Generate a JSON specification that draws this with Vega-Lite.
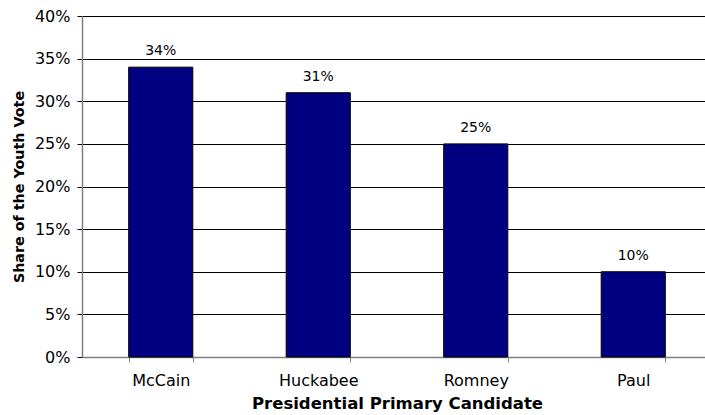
{
  "$schema": "https://vega.github.io/schema/vega-lite/v6.json",
  "autosize": "none",
  "width": 630,
  "height": 341,
  "padding": {"left": 82, "top": 16, "right": 0, "bottom": 58},
  "background": "white",
  "config": {
    "view": {"stroke": null},
    "font": "DejaVu Sans"
  },
  "data": {
    "values": [
      {"candidate": "McCain", "share": 0.34, "label": "34%"},
      {"candidate": "Huckabee", "share": 0.31, "label": "31%"},
      {"candidate": "Romney", "share": 0.25, "label": "25%"},
      {"candidate": "Paul", "share": 0.10, "label": "10%"}
    ]
  },
  "encoding": {
    "x": {
      "field": "candidate",
      "type": "nominal",
      "sort": null,
      "scale": {"paddingInner": 0.593, "paddingOuter": 0.2965},
      "axis": {
        "title": "Presidential Primary Candidate",
        "titleFont": "DejaVu Sans",
        "titleFontSize": 16.5,
        "titleFontWeight": "bold",
        "titleColor": "#000",
        "titlePadding": 7,
        "labelAngle": 0,
        "labelFont": "DejaVu Sans",
        "labelFontSize": 16,
        "labelColor": "#000",
        "labelPadding": 10,
        "tickBand": "extent",
        "tickColor": "#808080",
        "tickSize": 5,
        "domainColor": "#808080",
        "domainWidth": 1.5,
        "grid": false
      }
    },
    "y": {
      "field": "share",
      "type": "quantitative",
      "scale": {"domain": [0, 0.4], "nice": false},
      "axis": {
        "title": "Share of the Youth Vote",
        "titleFont": "DejaVu Sans",
        "titleFontSize": 14.3,
        "titleFontWeight": "bold",
        "titleColor": "#000",
        "titlePadding": 8,
        "format": ".0%",
        "values": [0, 0.05, 0.1, 0.15, 0.2, 0.25, 0.3, 0.35, 0.4],
        "labelFont": "DejaVu Sans",
        "labelFontSize": 16,
        "labelColor": "#000",
        "labelPadding": 7,
        "tickColor": "#000",
        "tickSize": 5,
        "domainColor": "#808080",
        "domainWidth": 1.5,
        "grid": true,
        "gridColor": "#000",
        "gridWidth": 1,
        "gridOpacity": 1
      }
    }
  },
  "layer": [
    {
      "mark": {"type": "bar", "color": "#000080", "stroke": "#000", "strokeWidth": 1}
    },
    {
      "mark": {"type": "text", "dy": -16, "fontSize": 14, "font": "DejaVu Sans", "color": "#000"},
      "encoding": {"text": {"field": "label"}}
    }
  ]
}
